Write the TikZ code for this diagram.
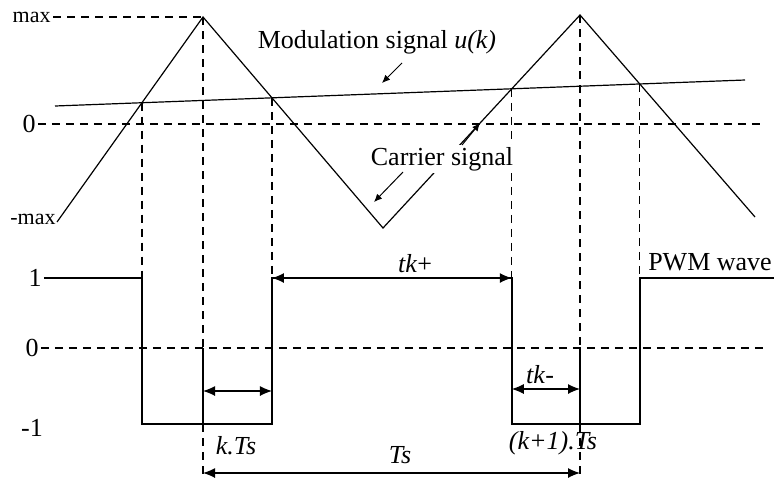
\documentclass[tikz,border=0pt]{standalone}
\usepackage{fontspec}
\setmainfont{Liberation Serif}
\usetikzlibrary{arrows.meta}

\tikzset{
  wave/.style={line width=0.6pt},
  pwm/.style={line width=0.8pt},
  guide/.style={line width=0.6pt, dash pattern=on 4pt off 3pt},
  span/.style={line width=0.6pt, {Latex[length=6pt,width=5pt]}-{Latex[length=6pt,width=5pt]}},
  pointer/.style={line width=0.5pt, -{Latex[length=4pt,width=3.5pt]}},
  lbl/.style={font=\fontsize{13}{15}\selectfont, inner sep=1pt},
  small/.style={font=\fontsize{11}{13}\selectfont, inner sep=1pt},
}

\begin{document}
\begin{tikzpicture}[x=0.5pt, y=-0.5pt]
  \useasboundingbox (0,0) rectangle (774,483);
  % carrier corners and modulation ends
  \coordinate (c0) at (57,222);  \coordinate (c1) at (203,17);
  \coordinate (c2) at (383,228); \coordinate (c3) at (580,15);
  \coordinate (c4) at (755,217);
  \coordinate (m0) at (55,106);  \coordinate (m1) at (745,80);
  \coordinate (i1) at (intersection of c0--c1 and m0--m1);
  \coordinate (i2) at (intersection of c1--c2 and m0--m1);
  \coordinate (i3) at (intersection of c2--c3 and m0--m1);
  \coordinate (i4) at (intersection of c3--c4 and m0--m1);
  % levels below
  \coordinate (hi) at (0,278); \coordinate (zr) at (0,348);
  \coordinate (lo) at (0,424); \coordinate (bt) at (0,478);
  \coordinate (r1) at (0,391); \coordinate (r2) at (0,389);
  \coordinate (r3) at (0,473);
  \coordinate (zuend) at (760,124); \coordinate (zlend) at (765,348);
  \coordinate (pend) at (774,278);

  % upper axis marks
  \node[small, anchor=east] (max) at (53,17) {max};
  \node[small, anchor=east] (mmax) at (58,219) {-max};
  \node[lbl] (zu) at (29,124) {0};
  \draw[guide] (max) -- (c1);
  \draw[guide] (zu) -- (zuend);

  % carrier and modulation
  \draw[wave] (c0) -- (c1) -- (c2) -- (c3) -- (c4);
  \draw[wave] (m0) -- (m1);

  % guide lines
  \foreach \p in {i1,i2,i3,i4}
    \draw[guide] (\p) -- (\p |- hi);
  \foreach \p in {c1,c3} {
    \draw[guide] (\p) -- (\p |- zr);
    \draw[wave] (\p |- zr) -- (\p |- lo);
    \draw[guide] (\p |- lo) -- (\p |- bt);
  }

  % PWM wave
  \node[lbl] (one) at (35,278) {1};
  \node[lbl] (zl) at (32,348) {0};
  \node[lbl] (mone) at (32,428) {-1};
  \draw[guide] (zl) -- (zlend);
  \draw[pwm] (one) -- (i1 |- hi) -- (i1 |- lo) -- (i2 |- lo) -- (i2 |- hi)
    -- (i3 |- hi) -- (i3 |- lo) -- (i4 |- lo) -- (i4 |- hi) -- (pend);

  % time spans
  \draw[span] (c1 |- r1) -- (i2 |- r1);
  \draw[span] (i2 |- hi) -- (i3 |- hi);
  \draw[span] (i3 |- r2) -- (c3 |- r2);
  \draw[span] (c1 |- r3) -- (c3 |- r3);

  \node[lbl] (tkp) at (415,264) {\textit{tk}+};
  \node[lbl] (tkm) at (540,375) {\textit{tk}-};
  \node[lbl] (kts) at (236,446) {\textit{k.Ts}};
  \node[lbl] (k1ts) at (553,443) {\textit{(k+1).Ts}};
  \node[lbl] (ts) at (400,455) {\textit{Ts}};
  \node[lbl] (pwmlbl) at (710,262) {PWM wave};

  % signal labels
  \node[lbl] (modlbl) at (377,42) {Modulation signal \textit{u(k)}};
  \node[lbl, fill=white] (carlbl) at (442,159) {Carrier signal};
  \coordinate (pm0) at (402,63);  \coordinate (pm1) at (382,83);
  \coordinate (pc0) at (403,172); \coordinate (pc1) at (374,202);
  \coordinate (pc2) at (462,145); \coordinate (pc3) at (480,123);
  \draw[pointer] (pm0) -- (pm1);
  \draw[pointer] (pc0) -- (pc1);
  \draw[pointer] (pc2) -- (pc3);
\end{tikzpicture}
\end{document}
